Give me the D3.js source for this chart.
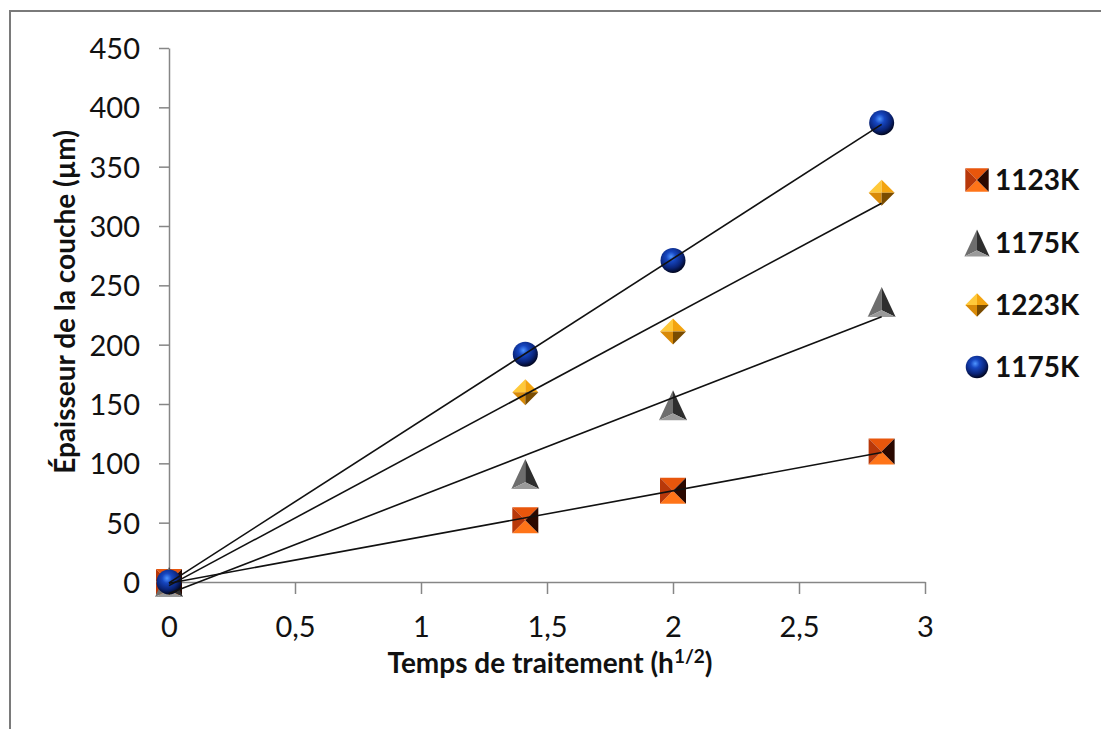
<!DOCTYPE html>
<html>
<head>
<meta charset="utf-8">
<script src="https://cdn.jsdelivr.net/npm/d3@7"></script>
<style>
  body { margin: 0; background: #fff; }
  svg { display: block; font-family: Lato, "Open Sans", sans-serif; }
</style>
</head>
<body>
<div id="chart"></div>
<script>
// temps de traitement (racine des heures)
const xTimes = [0, 1.414, 2, 2.828];
const ep1123 = [0, 52, 77, 110];
const ep1175 = [0, 91, 149, 236];
const ep1223 = [0, 160, 211, 328];
const ep1175b = [0, 192, 271, 387];
const legendLabels = ["1123K", "1175K", "1223K", "1175K"];
const xTicks = [0, 0.5, 1, 1.5, 2, 2.5, 3];
const yTicks = [0, 50, 100, 150, 200, 250, 300, 350, 400, 450];

const width = 1101, height = 729;

const svg = d3.select("#chart").append("svg")
    .attr("width", width)
    .attr("height", height);

svg.append("rect").attr("width", width).attr("height", height).attr("fill", "#fff");

// cadre
svg.append("path")
    .attr("d", `M10,${height} L10,11 L${width},11`)
    .attr("fill", "none")
    .attr("stroke", "#7a7a7a")
    .attr("stroke-width", 2);

const x = d3.scaleLinear().domain([0, 3]).range([169, 925]);
const y = d3.scaleLinear().domain([0, 450]).range([582, 48]);

const fmt = d => String(d).replace(".", ",");

const gx = svg.append("g")
    .attr("transform", `translate(0,${y(0)})`)
    .call(d3.axisBottom(x).tickValues(xTicks).tickFormat(fmt).tickSize(12).tickPadding(22).tickSizeOuter(0));
const gy = svg.append("g")
    .attr("transform", `translate(${x(0)},0)`)
    .call(d3.axisLeft(y).tickValues(yTicks).tickSize(10).tickPadding(19).tickSizeOuter(0));

[gx, gy].forEach(g => {
  g.select(".domain").attr("stroke", "#868686").attr("stroke-width", 1.5);
  g.selectAll(".tick line").attr("stroke", "#868686").attr("stroke-width", 1.5);
  g.selectAll(".tick text")
      .attr("fill", "#111")
      .style("font-family", "Lato, sans-serif")
      .style("font-size", "29px");
});
gy.selectAll(".tick text").attr("dy", "0.36em");

// titres
svg.append("text")
    .attr("transform", `translate(75,${(y(0) + y(450)) / 2 - 13}) rotate(-90)`)
    .attr("text-anchor", "middle")
    .style("font-weight", "bold")
    .style("font-size", "28px")
    .attr("fill", "#111")
    .text("Épaisseur de la couche (µm)");

const xt = svg.append("text")
    .attr("x", 550)
    .attr("y", 673)
    .attr("text-anchor", "middle")
    .style("font-weight", "bold")
    .style("font-size", "28px")
    .attr("fill", "#111");
xt.append("tspan").text("Temps de traitement (h");
xt.append("tspan").attr("dy", -10).style("font-size", "19px").text("1/2");
xt.append("tspan").attr("dy", 10).text(")");

// dégradé sphère
const defs = svg.append("defs");
const rg = defs.append("radialGradient").attr("id", "sphere")
    .attr("cx", "42%").attr("cy", "35%").attr("r", "65%");
rg.append("stop").attr("offset", "0%").attr("stop-color", "#4f95ff");
rg.append("stop").attr("offset", "30%").attr("stop-color", "#1646c0");
rg.append("stop").attr("offset", "70%").attr("stop-color", "#0a2478");
rg.append("stop").attr("offset", "100%").attr("stop-color", "#010620");

function drawSquare(g) {
  const s = 13;
  g.append("path").attr("d", `M${-s},${-s}L${s},${-s}L0,0Z`).attr("fill", "#e8560c");
  g.append("path").attr("d", `M${-s},${s}L${s},${s}L0,0Z`).attr("fill", "#ff7418");
  g.append("path").attr("d", `M${-s},${-s}L${-s},${s}L0,0Z`).attr("fill", "#b8380a");
  g.append("path").attr("d", `M${s},${-s}L${s},${s}L0,0Z`).attr("fill", "#2a0800");
}
function drawTriangle(g) {
  const w = 14, h = 15;
  g.append("path").attr("d", `M0,${-h}L${-w},${h}L0,${h * 0.55}Z`).attr("fill", "#6e6e6e");
  g.append("path").attr("d", `M0,${-h}L${w},${h}L0,${h * 0.55}Z`).attr("fill", "#2e2e2e");
  g.append("path").attr("d", `M${-w},${h}L${w},${h}L0,${h * 0.55}Z`).attr("fill", "#9a9a9a");
}
function drawDiamond(g) {
  const s = 13;
  g.append("path").attr("d", `M0,${-s}L${-s},0L0,0Z`).attr("fill", "#ffc93a");
  g.append("path").attr("d", `M0,${-s}L${s},0L0,0Z`).attr("fill", "#f3a410");
  g.append("path").attr("d", `M0,${s}L${-s},0L0,0Z`).attr("fill", "#d98a08");
  g.append("path").attr("d", `M0,${s}L${s},0L0,0Z`).attr("fill", "#7a4c00");
}
function drawSphere(g) {
  g.append("circle").attr("r", 12.5).attr("fill", "url(#sphere)");
}

const series = [
  { label: legendLabels[0], values: ep1123, draw: drawSquare },
  { label: legendLabels[1], values: ep1175, draw: drawTriangle },
  { label: legendLabels[2], values: ep1223, draw: drawDiamond },
  { label: legendLabels[3], values: ep1175b, draw: drawSphere }
];

// marqueurs
series.forEach(s => {
  const pts = s.values.map((v, i) => [xTimes[i], v]);
  svg.append("g").selectAll("g")
      .data(pts)
      .enter().append("g")
      .attr("transform", d => `translate(${x(d[0])},${y(d[1])})`)
      .each(function () { s.draw(d3.select(this)); });
});

// courbes de tendance linéaires (moindres carrés)
series.forEach(s => {
  const mx = d3.mean(xTimes), my = d3.mean(s.values);
  const sxy = d3.sum(xTimes, (t, i) => (t - mx) * (s.values[i] - my));
  const sxx = d3.sum(xTimes, t => (t - mx) * (t - mx));
  const slope = sxy / sxx, icpt = my - slope * mx;
  const ends = d3.extent(xTimes);
  svg.append("line")
      .attr("x1", x(ends[0])).attr("y1", y(icpt + slope * ends[0]))
      .attr("x2", x(ends[1])).attr("y2", y(icpt + slope * ends[1]))
      .attr("stroke", "#111")
      .attr("stroke-width", 1.6);
});

// légende
const legendY = [180, 243, 305, 367];
series.forEach((s, i) => {
  const g = svg.append("g").attr("transform", `translate(977,${legendY[i]})`);
  const m = g.append("g").attr("transform", "scale(0.9)");
  s.draw(m);
  g.append("text")
      .attr("x", 18)
      .attr("y", 10)
      .style("font-weight", "bold")
      .style("font-size", "28px")
      .attr("fill", "#111")
      .text(s.label);
});
</script>
</body>
</html>
